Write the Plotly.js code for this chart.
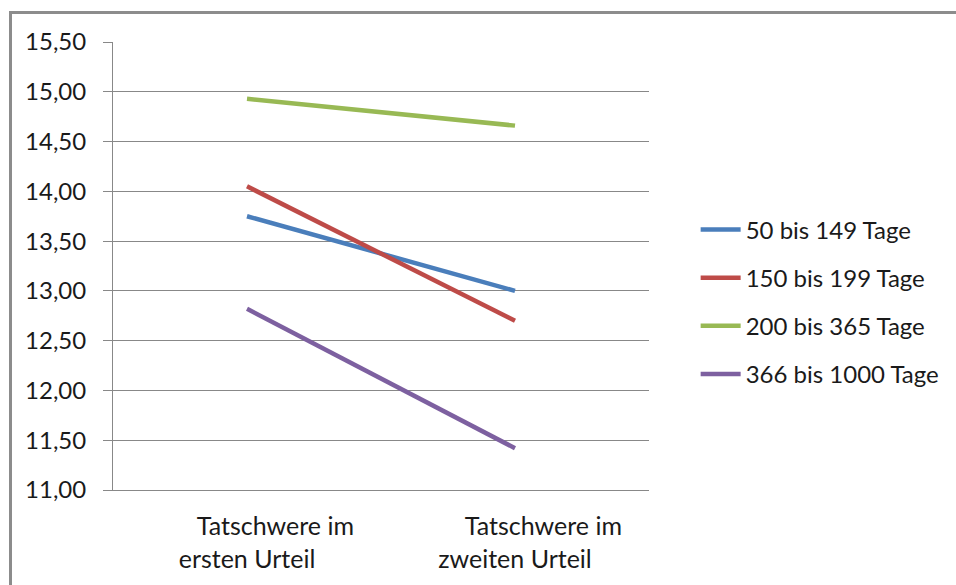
<!DOCTYPE html>
<html>
<head>
<meta charset="utf-8">
<script src="https://cdn.plot.ly/plotly-3.0.1.min.js"></script>
<style>
html,body{margin:0;padding:0;background:#fff;}
#wrap{position:relative;width:956px;height:585px;overflow:hidden;}
#frame{position:absolute;left:9px;top:11px;width:960px;height:600px;border-top:3px solid #8c8c8c;border-left:3px solid #8c8c8c;pointer-events:none;}
#chart{position:absolute;left:0;top:0;width:956px;height:585px;}
</style>
</head>
<body>
<div id="wrap">
<div id="chart"></div>
<div id="frame"></div>
</div>
<script>
const pad = "\u00a0".repeat(9);
const categories = [pad + "Tatschwere im<br>ersten Urteil", pad + "Tatschwere im<br>zweiten Urteil"];
const seriesNames = ["50 bis 149 Tage", "150 bis 199 Tage", "200 bis 365 Tage", "366 bis 1000 Tage"];
const s50_149 = [13.75, 13.00];
const s150_199 = [14.05, 12.70];
const s200_365 = [14.93, 14.66];
const s366_1000 = [12.82, 11.42];
const colors = ["#4A7EBB", "#BE4B48", "#98B954", "#7D60A0"];
const seriesValues = [s50_149, s150_199, s200_365, s366_1000];

const traces = seriesValues.map((vals, i) => ({
  type: "scatter",
  mode: "lines",
  x: categories,
  y: vals,
  name: seriesNames[i],
  legendgroup: "g" + i,
  line: {color: colors[i], width: 4.5}
}));

const font = "Lato, 'Open Sans', sans-serif";
const layout = {
  width: 956, height: 585,
  margin: {l: 113, r: 306, t: 42, b: 95},
  paper_bgcolor: "rgba(0,0,0,0)",
  plot_bgcolor: "#fff",
  separators: ",.",
  font: {family: font, size: 24, color: "#1a1a1a"},
  showlegend: true,
  legend: {
    x: 1.085, xanchor: "left", xref: "paper",
    y: 0.42, yanchor: "middle",
    font: {family: font, size: 24, color: "#1a1a1a"},
    traceorder: "grouped",
    tracegroupgap: 14,
    bgcolor: "rgba(0,0,0,0)",
    itemwidth: 40
  },
  xaxis: {
    type: "category",
    range: [-0.5, 1.5],
    showgrid: false,
    showline: true, linecolor: "#888", linewidth: 1,
    ticks: "", ticklabelstandoff: 14,
    tickfont: {family: font, size: 25, color: "#1a1a1a"},
    fixedrange: true
  },
  yaxis: {
    range: [11, 15.5],
    dtick: 0.5, tick0: 11,
    tickformat: ".2f",
    showgrid: true, gridcolor: "#888", gridwidth: 1,
    showline: true, linecolor: "#888", linewidth: 1,
    ticks: "outside", ticklen: 9, tickcolor: "#888",
    ticklabelstandoff: 12,
    tickfont: {family: font, size: 24, color: "#1a1a1a"},
    zeroline: false,
    fixedrange: true
  }
};
Plotly.newPlot("chart", traces, layout, {displayModeBar: false, staticPlot: true});
</script>
</body>
</html>
